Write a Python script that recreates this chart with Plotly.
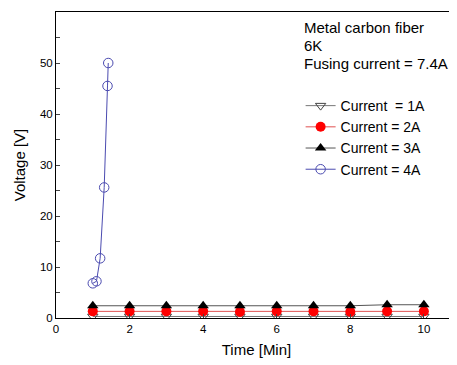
import plotly.graph_objects as go

t_main = [1, 2, 3, 4, 5, 6, 7, 8, 9, 10]
v_1a = [0.3, 0.3, 0.3, 0.3, 0.3, 0.3, 0.3, 0.3, 0.3, 0.3]
v_2a = [1.3, 1.3, 1.3, 1.3, 1.2, 1.3, 1.3, 1.2, 1.3, 1.3]
v_3a = [2.4, 2.4, 2.4, 2.4, 2.4, 2.4, 2.4, 2.4, 2.6, 2.6]
t_4a = [1.0, 1.1, 1.2, 1.31, 1.4, 1.42]
v_4a = [6.8, 7.2, 11.7, 25.6, 45.5, 50.0]

names = ["Current  = 1A", "Current = 2A", "Current = 3A", "Current = 4A"]
note_lines = ["Metal carbon fiber", "6K", "Fusing current = 7.4A"]

FONT = "Liberation Sans, Arial, sans-serif"

fig = go.Figure()
fig.add_trace(go.Scatter(x=t_main, y=v_1a, name=names[0], mode="lines+markers",
                         line=dict(color="#777777", width=1),
                         marker=dict(symbol="triangle-down-open", size=9, color="#444444",
                                     line=dict(width=1))))
fig.add_trace(go.Scatter(x=t_main, y=v_2a, name=names[1], mode="lines+markers",
                         line=dict(color="#e05050", width=1),
                         marker=dict(symbol="circle", size=10, color="#ff0000")))
fig.add_trace(go.Scatter(x=t_main, y=v_3a, name=names[2], mode="lines+markers",
                         line=dict(color="#555555", width=1),
                         marker=dict(symbol="triangle-up", size=10, color="#000000")))
fig.add_trace(go.Scatter(x=t_4a, y=v_4a, name=names[3], mode="lines+markers",
                         line=dict(color="#4b4bb0", width=1),
                         marker=dict(symbol="circle-open", size=9.5, color="#4b4bb0",
                                     line=dict(width=1))))

note_y = [0.948, 0.892, 0.833]
annotations = [dict(x=0.613, y=yy, xref="paper", yref="paper", xanchor="left",
                    yanchor="middle", align="left", showarrow=False, text=txt,
                    font=dict(size=15))
               for txt, yy in zip(note_lines, note_y)]

# page body has an 8px default margin; compensate so the plot lands where the reference has it
fig.update_layout(
    width=449, height=357,
    margin=dict(l=48, r=0, t=4, b=47, autoexpand=False),
    paper_bgcolor="white", plot_bgcolor="white",
    font=dict(family=FONT, size=12, color="black"),
    showlegend=True,
    legend=dict(x=0.61, y=0.745, xanchor="left", yanchor="top",
                bgcolor="rgba(0,0,0,0)", font=dict(size=14), tracegroupgap=0,
                itemwidth=30),
    annotations=annotations,
)
fig.update_xaxes(range=[0, 10.9], tickvals=[0, 2, 4, 6, 8, 10], ticks="inside", ticklen=4,
                 showline=True, linecolor="black", linewidth=1, mirror=True,
                 showgrid=False, zeroline=False, automargin=False,
                 title=dict(text="Time [Min]", font=dict(size=15), standoff=10),
                 tickfont=dict(size=11.5))
fig.update_yaxes(range=[0, 60], tickvals=[0, 10, 20, 30, 40, 50, 60], ticks="inside", ticklen=4,
                 minor=dict(tickvals=[5, 15, 25, 35, 45, 55], ticks="inside", ticklen=4),
                 showline=True, linecolor="black", linewidth=1, mirror=False,
                 showgrid=False, zeroline=False, automargin=False,
                 title=dict(text="Voltage [V]", font=dict(size=15), standoff=10),
                 tickfont=dict(size=11.5))

fig.write_html("out.html")
